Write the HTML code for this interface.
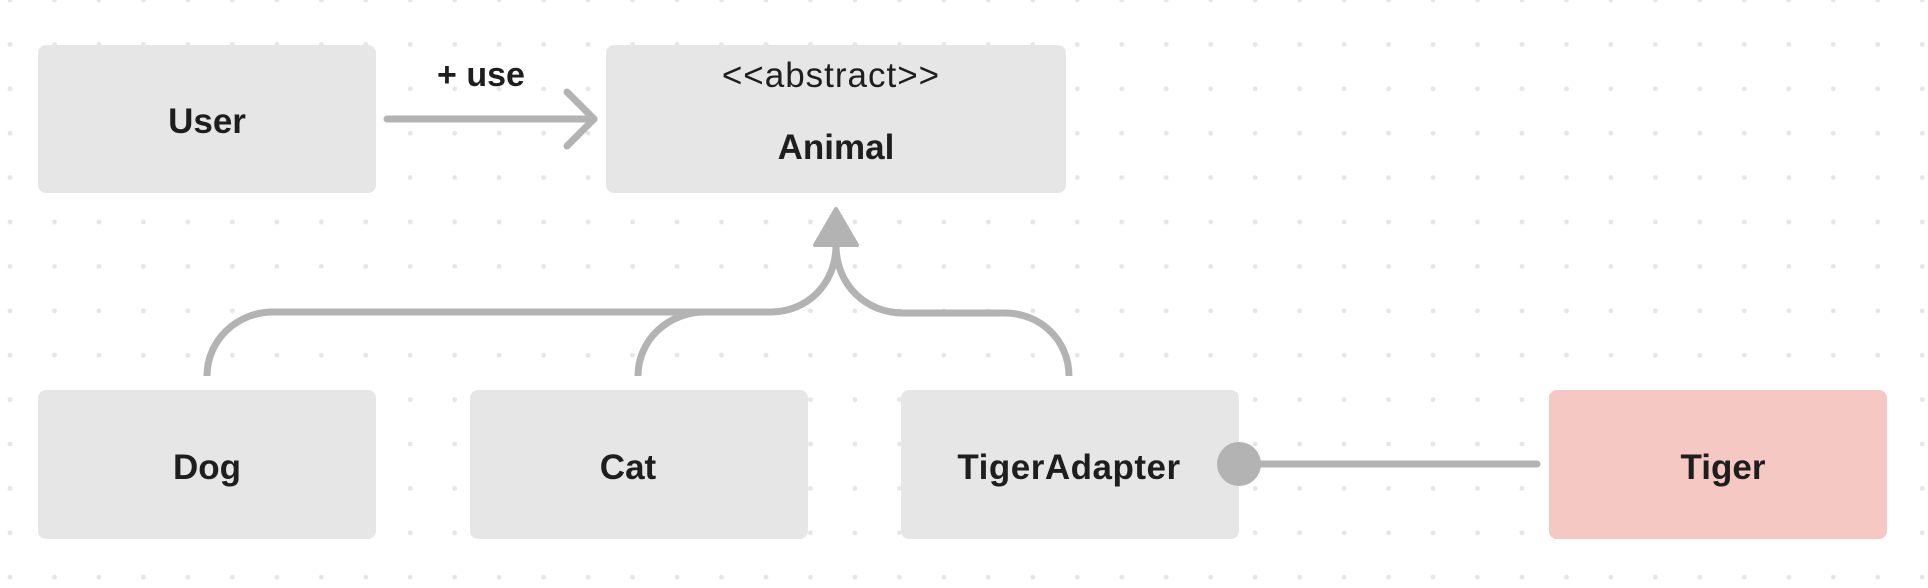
<!DOCTYPE html>
<html><head><meta charset="utf-8"><style>
html,body{margin:0;padding:0;background:#fff;}
svg{display:block;}
text{font-family:"Liberation Sans",sans-serif;fill:#1e1e1e;}
</style></head><body>
<svg width="1928" height="588" viewBox="0 0 1928 588" xmlns="http://www.w3.org/2000/svg">
<defs>
<pattern id="dots" x="10" y="0" width="44.47" height="44.4" patternUnits="userSpaceOnUse">
<circle cx="0" cy="0" r="2.4" fill="#e6e6e6"/><circle cx="44.47" cy="0" r="2.4" fill="#e6e6e6"/>
<circle cx="0" cy="44.4" r="2.4" fill="#e6e6e6"/><circle cx="44.47" cy="44.4" r="2.4" fill="#e6e6e6"/>
</pattern>
</defs>
<rect x="0" y="0" width="1928" height="588" fill="url(#dots)"/>
<g fill="#e6e6e6">
<rect x="38" y="45" width="338" height="148" rx="8"/>
<rect x="606" y="45" width="460" height="148" rx="8"/>
<rect x="38" y="390" width="338" height="149" rx="8"/>
<rect x="470" y="390" width="338" height="149" rx="8"/>
<rect x="901" y="390" width="338" height="149" rx="8"/>
</g>
<rect x="1549" y="390" width="338" height="149" rx="8" fill="#f5c8c3"/>
<g stroke="#b3b3b3" stroke-width="7" fill="none" stroke-linecap="round">
<line x1="387" y1="119" x2="594" y2="119"/>
<polyline points="567,92 594,119 567,146" stroke-linejoin="round"/>
<path d="M836 245 C836 285 806 312 771 312 L273 312 C237 312 207 340 207 376" stroke-linecap="butt"/>
<path d="M836 245 C836 285 866 313 903 313 L1005 313 C1040 313 1069 340 1069 376" stroke-linecap="butt"/>
<path d="M705 312 C668 312 638 340 638 376" stroke-linecap="butt"/>
<line x1="1239" y1="464" x2="1537" y2="464"/>
</g>
<polygon points="836,209 815,245 857,245" fill="#b3b3b3" stroke="#b3b3b3" stroke-width="4" stroke-linejoin="round"/>
<circle cx="1239" cy="464" r="22" fill="#b3b3b3"/>
<g font-size="35" font-weight="bold" text-anchor="middle">
<text x="481" y="86" font-size="34">+ use</text>
<text x="207" y="133">User</text>
<text x="836" y="159">Animal</text>
<text x="207" y="479">Dog</text>
<text x="628" y="479">Cat</text>
<text x="1069" y="479" letter-spacing="0.5">TigerAdapter</text>
<text x="1723" y="479">Tiger</text>
</g>
<text x="831" y="87" font-size="35" letter-spacing="1" text-anchor="middle">&lt;&lt;abstract&gt;&gt;</text>
</svg>
</body></html>
